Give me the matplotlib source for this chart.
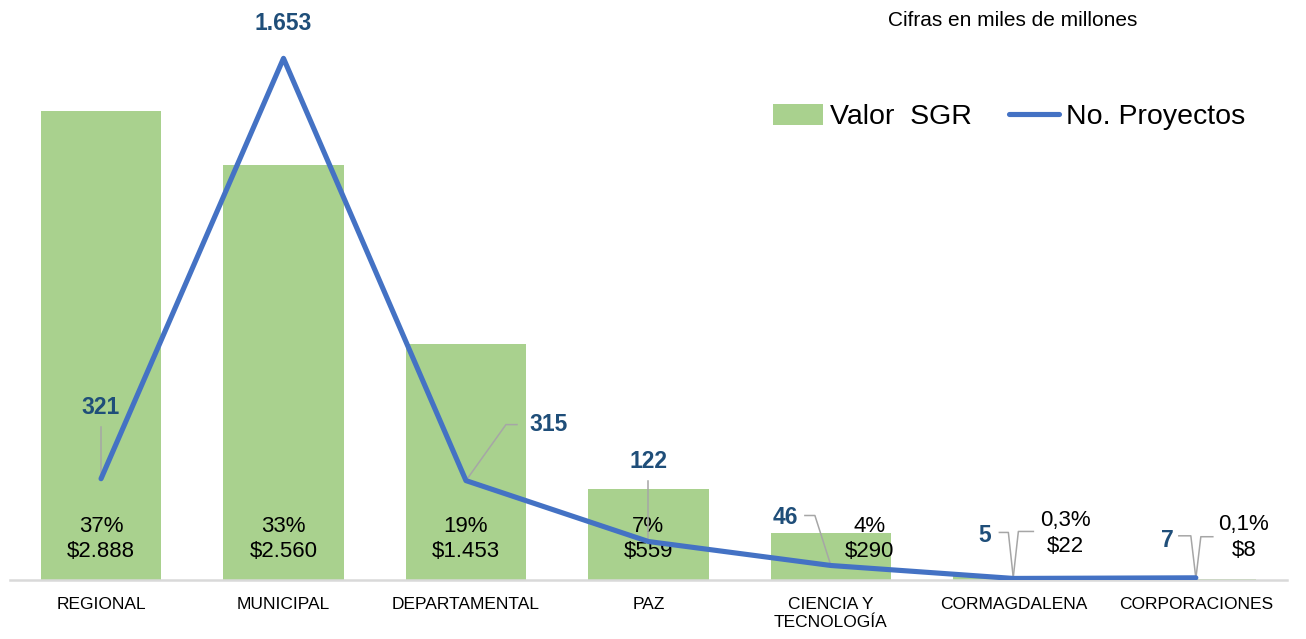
import matplotlib
matplotlib.use("Agg")
import matplotlib.pyplot as plt
from matplotlib.patches import Patch
from matplotlib.lines import Line2D

# === D A T A ===
categories = ["REGIONAL", "MUNICIPAL", "DEPARTAMENTAL", "PAZ",
              "CIENCIA Y\nTECNOLOGÍA", "CORMAGDALENA", "CORPORACIONES"]
valor_sgr = [2888, 2560, 1453, 559, 290, 22, 8]
valor_txt = ["$2.888", "$2.560", "$1.453", "$559", "$290", "$22", "$8"]
pct_txt = ["37%", "33%", "19%", "7%", "4%", "0,3%", "0,1%"]
proyectos = [321, 1653, 315, 122, 46, 5, 7]
proy_txt = ["321", "1.653", "315", "122", "46", "5", "7"]

# === S T Y L E ===
plt.rcParams['font.family'] = ['Liberation Sans', 'DejaVu Sans']
green = "#A9D18E"
blue = "#4472C4"
dark_blue = "#1F4E79"
grey = "#A6A6A6"

# label offsets in pixels (dx, dy up)
bar_lbl_off = [(0, 41), (0, 41), (0, 41), (0, 41), (39, 41), (52, 43), (48, 41)]
bar_lbl_base = [True, True, True, True, True, False, False]
bar_leaders = [None, None, None, None, None,
               [(20, 45), (5, 45), (0, 0)],
               [(17, 42), (5, 42), (0, 0)]]
line_lbl_off = [(0, 71), (0, 35), (83, 56), (0, 80), (-46, 48), (-29, 43), (-28, 37)]
line_leaders = [[(0, 52), (0, 1)], None, [(51, 56), (40, 56), (0, 0)],
                [(0, 61), (0, 1)], [(-26, 50), (-16, 50), (0, 0)],
                [(-14, 46), (-5, 46), (0, 0)], [(-17, 42), (-5, 42), (0, 0)]]

fig = plt.figure(figsize=(13.06, 6.39), dpi=100)
ax = fig.add_axes([0.0075, 0.0923, 0.978, 0.889])
ax2 = ax.twinx()

x = list(range(len(categories)))
ax.bar(x, valor_sgr, width=0.66, color=green, zorder=1)
ax2.plot(x, proyectos, color=blue, lw=3.7, solid_joinstyle='round',
         solid_capstyle='round', zorder=3)

ax.set_xlim(-0.5, 6.5)
ax.set_ylim(0, 3500)
ax2.set_ylim(0, 1800)

for a in (ax, ax2):
    for s in a.spines.values():
        s.set_visible(False)
    a.set_yticks([])
ax.spines['bottom'].set_visible(True)
ax.spines['bottom'].set_color("#D9D9D9")
ax.spines['bottom'].set_linewidth(1.8)
ax.set_xticks(x)
ax.set_xticklabels(categories, fontsize=12.5, linespacing=1.25)
ax.tick_params(axis='x', length=0, pad=12)


def leader(a, xi, yi, pts):
    bx, by = a.transData.transform((xi, yi))
    inv = a.transData.inverted()
    xy = [inv.transform((bx + dx, by + dy)) for dx, dy in pts]
    a.add_line(Line2D([p[0] for p in xy], [p[1] for p in xy], color=grey,
                      lw=1.1, zorder=2, clip_on=False))


# bar labels
for i in x:
    yref = 0 if bar_lbl_base[i] else valor_sgr[i]
    dx, dy = bar_lbl_off[i]
    ax.annotate(pct_txt[i] + "\n" + valor_txt[i], (i, yref), xytext=(dx, dy),
                textcoords='offset pixels', ha='center', va='center',
                fontsize=16, linespacing=1.3, color="#000000", zorder=4)
    if bar_leaders[i]:
        leader(ax, i, valor_sgr[i], bar_leaders[i])

# line labels
for i in x:
    dx, dy = line_lbl_off[i]
    ax2.annotate(proy_txt[i], (i, proyectos[i]), xytext=(dx, dy),
                 textcoords='offset pixels', ha='center', va='center',
                 fontsize=16.5, fontweight='bold', color=dark_blue, zorder=5)
    if line_leaders[i]:
        leader(ax2, i, proyectos[i], line_leaders[i])

handles = [Patch(facecolor=green, edgecolor='none', label="Valor  SGR"),
           Line2D([], [], color=blue, lw=3.7, solid_capstyle='round', label="No. Proyectos")]
fig.legend(handles=handles, loc='center left', bbox_to_anchor=(773 / 1306, 1 - 117 / 639),
           ncol=2, frameon=False, fontsize=20.5, handlelength=1.75, handleheight=0.75,
           handletextpad=0.25, columnspacing=1.3, borderpad=0, borderaxespad=0)

fig.text(1013 / 1306, 1 - 20 / 639, "Cifras en miles de millones", ha='center',
         va='center', fontsize=15)

fig.savefig("out.png", dpi=100)
